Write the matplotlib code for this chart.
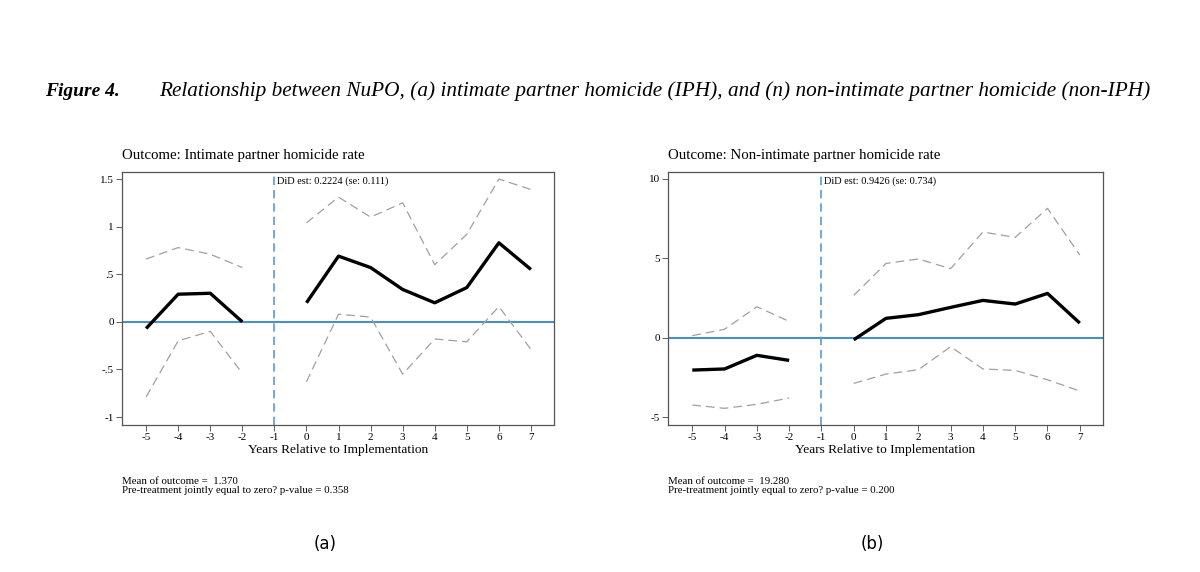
import matplotlib
matplotlib.use("Agg")
import matplotlib.pyplot as plt
import numpy as np

plt.rcParams['font.family'] = ['Liberation Serif', 'DejaVu Serif']

years = [-5, -4, -3, -2, 0, 1, 2, 3, 4, 5, 6, 7]
x_ticks = list(range(-5, 8))

# panel (a): intimate partner homicide
iph_est = [-0.07, 0.29, 0.30, 0.00, 0.20, 0.69, 0.57, 0.34, 0.20, 0.36, 0.83, 0.55]
iph_hi = [0.66, 0.78, 0.71, 0.57, 1.04, 1.31, 1.10, 1.25, 0.60, 0.92, 1.50, 1.39]
iph_lo = [-0.79, -0.20, -0.10, -0.54, -0.63, 0.08, 0.05, -0.55, -0.18, -0.21, 0.16, -0.29]
iph_yticks = [-1, -0.5, 0, 0.5, 1, 1.5]
iph_ylabels = ['-1', '-.5', '0', '.5', '1', '1.5']

# panel (b): non-intimate partner homicide
non_est = [-2.04, -1.97, -1.11, -1.43, -0.13, 1.22, 1.45, 1.91, 2.35, 2.12, 2.79, 0.92]
non_hi = [0.13, 0.53, 1.95, 1.03, 2.67, 4.68, 4.96, 4.35, 6.66, 6.32, 8.15, 5.21]
non_lo = [-4.24, -4.45, -4.20, -3.80, -2.88, -2.29, -2.02, -0.57, -1.97, -2.06, -2.65, -3.36]
non_yticks = [-5, 0, 5, 10]
non_ylabels = ['-5', '0', '5', '10']


def draw_panel(ax, est, hi, lo, yticks, ylabels, ylim, title, did, notes, tag):
    pre = slice(0, 4)
    post = slice(4, None)
    yr = np.array(years)
    for s in (pre, post):
        ax.plot(yr[s], np.array(est)[s], color='black', lw=2.4, solid_capstyle='butt')
        ax.plot(yr[s], np.array(hi)[s], color='#a0a0a0', lw=0.9, ls=(0, (7, 4)))
        ax.plot(yr[s], np.array(lo)[s], color='#a0a0a0', lw=0.9, ls=(0, (7, 4)))
    ax.axhline(0, color='#4a90c4', lw=1.5, zorder=1)
    ax.axvline(-1, color='#5b9bd0', lw=1.2, ls=(0, (5, 3)), zorder=1)

    ax.set_xlim(-5.75, 7.72)
    ax.set_ylim(*ylim)
    ax.set_xticks(x_ticks)
    ax.set_xticklabels([str(t) for t in x_ticks])
    ax.set_yticks(yticks)
    ax.set_yticklabels(ylabels)
    ax.tick_params(axis='both', labelsize=8, length=4, width=0.6, color='#444444', pad=2)
    for sp in ax.spines.values():
        sp.set_color('#555555')
        sp.set_linewidth(0.9)
    ax.set_xlabel('Years Relative to Implementation', fontsize=9.6, labelpad=1)

    ax.text(0.0, 1.04, title, transform=ax.transAxes, fontsize=10.7, ha='left', va='bottom')
    ax.text(-0.92, ylim[1] - (ylim[1] - ylim[0]) * 0.035, did, fontsize=7.4, ha='left', va='center')
    ax.text(0.0, -0.205, notes, transform=ax.transAxes, fontsize=7.8, ha='left', va='top',
            linespacing=1.0)
    ax.text(0.47, -0.47, tag, transform=ax.transAxes, fontsize=12, ha='center', va='center',
            family='DejaVu Sans')


fig = plt.figure(figsize=(12, 5.72), dpi=100)
ax1 = fig.add_axes([0.1017, 0.257, 0.36, 0.4423])
ax2 = fig.add_axes([0.5567, 0.257, 0.3625, 0.4423])

draw_panel(ax1, iph_est, iph_hi, iph_lo, iph_yticks, iph_ylabels, (-1.084, 1.574),
           'Outcome: Intimate partner homicide rate', 'DiD est: 0.2224 (se: 0.111)',
           'Mean of outcome =  1.370\nPre-treatment jointly equal to zero? p-value = 0.358', '(a)')
draw_panel(ax2, non_est, non_hi, non_lo, non_yticks, non_ylabels, (-5.5, 10.44),
           'Outcome: Non-intimate partner homicide rate', 'DiD est: 0.9426 (se: 0.734)',
           'Mean of outcome =  19.280\nPre-treatment jointly equal to zero? p-value = 0.200', '(b)')

fig.text(0.0375, 0.84, 'Figure 4.', fontsize=14, style='italic', weight='bold', va='center')
fig.text(0.133, 0.84, 'Relationship between NuPO, (a) intimate partner homicide (IPH), and (n) '
         'non-intimate partner homicide (non-IPH)', fontsize=15.3, style='italic', va='center')

fig.savefig('out.png', dpi=100, facecolor='white')
